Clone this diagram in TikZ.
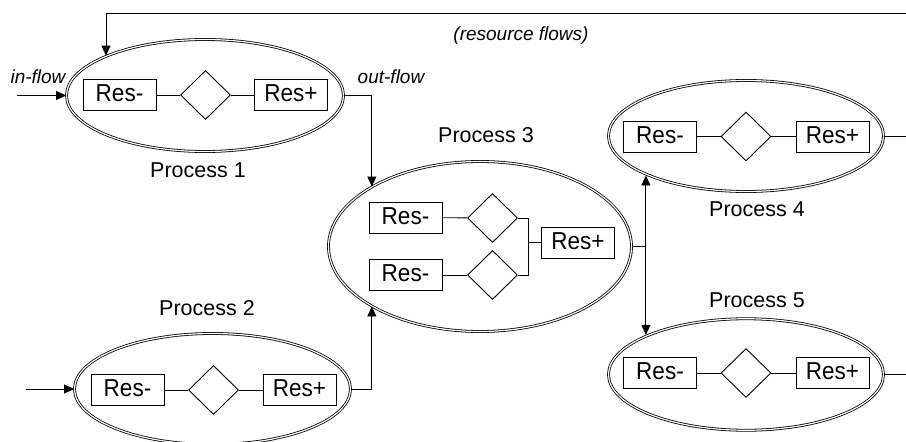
\documentclass[tikz,border=0pt]{standalone}
\usepackage{fontspec}
\setmainfont{Liberation Sans}
\newfontfamily\resfont[FakeStretch=0.92]{Liberation Sans}
\usetikzlibrary{shapes.geometric,arrows.meta}
\begin{document}
\begin{tikzpicture}[x=1pt,y=-1pt,
  proc/.style={ellipse, draw, double, double distance=1.2pt, line width=0.8pt, inner sep=0pt},
  res/.style={draw, line width=0.9pt, minimum width=73pt, minimum height=31pt, inner sep=0pt, text height=17.5pt, text depth=4pt, font=\resfont\fontsize{24.5}{26}\selectfont},
  dia/.style={diamond, draw, line width=0.9pt, minimum width=50pt, minimum height=49pt, inner sep=0pt},
  lbl/.style={font=\fontsize{21.5}{24}\selectfont},
  ital/.style={font=\fontsize{19}{22}\selectfont\itshape},
  link/.style={line width=0.9pt},
  flow/.style={line width=0.9pt, -{Triangle[length=10pt,width=9pt]}}
]
\useasboundingbox (0,0) rectangle (906,442);

% Process ellipses
\node[proc, minimum width=277pt, minimum height=112pt] (p1) at (205,95.5) {};
\node[proc, minimum width=276pt, minimum height=111pt] (p2) at (212.5,389) {};
\node[proc, minimum width=303pt, minimum height=170pt] (p3) at (480,246.5) {};
\node[proc, minimum width=275pt, minimum height=111pt] (p4) at (746,136) {};
\node[proc, minimum width=275pt, minimum height=111.5pt] (p5) at (746,374.5) {};

% Process 1 contents
\node[res] (r1m) at (119.5,95) {Res-};
\node[dia] (d1) at (205.5,95) {};
\node[res] (r1p) at (291,95) {Res+};
\draw[link] (r1m) -- (d1) -- (r1p);

% Process 2 contents
\node[res] (r2m) at (127.5,390) {Res-};
\node[dia] (d2) at (213.5,390) {};
\node[res] (r2p) at (299.5,390) {Res+};
\draw[link] (r2m) -- (d2) -- (r2p);

% Process 3 contents
\node[res] (r3a) at (405.5,217.5) {Res-};
\node[res] (r3b) at (405.5,275) {Res-};
\node[dia] (d3a) at (492.5,218) {};
\node[dia] (d3b) at (492.5,275) {};
\node[res] (r3p) at (578,242.5) {Res+};
\draw[link] (r3a) -- (d3a);
\draw[link] (r3b) -- (d3b);
\path (r3p.west) ++(-13,0) coordinate (br);
\draw[link] (d3a.east) -| (br) |- (d3b.east);
\draw[link] (br) -- (r3p.west);

% Process 4 contents
\node[res] (r4m) at (660,136.5) {Res-};
\node[dia] (d4) at (746,136.5) {};
\node[res] (r4p) at (832.5,136.5) {Res+};
\draw[link] (r4m) -- (d4) -- (r4p);

% Process 5 contents
\node[res] (r5m) at (660,373) {Res-};
\node[dia] (d5) at (746,373) {};
\node[res] (r5p) at (832.5,373) {Res+};
\draw[link] (r5m) -- (d5) -- (r5p);

% Labels
\node[lbl] (l1) at (198,170) {Process 1};
\node[lbl] (l2) at (207,308) {Process 2};
\node[lbl] (l3) at (486,135) {Process 3};
\node[lbl] (l4) at (757,209) {Process 4};
\node[lbl] (l5) at (757,300) {Process 5};
\node[ital] (lin) at (38,77) {in-flow};
\node[ital] (lout) at (391,77) {out-flow};
\node[ital] (lres) at (521,36) {(resource flows)};

% Coordinates for free ends
\coordinate (e0) at (906,13);
\coordinate (fb) at (106,13);
\path (p1.west) ++(-49,0) coordinate (in1);
\path (p2.west) ++(-48,0) coordinate (in2);
\path (p3.east) ++(14,0) coordinate (j);
\path (p4.east -| e0) coordinate (e4);
\path (p5.east -| e0) coordinate (e5);

% Connectors
\draw[flow] (in1) -- (p1.west);
\draw[flow] (in2) -- (p2.west);
\draw[flow] (e0) -- (fb) -- (fb |- p1.158);
\draw[flow] (p1.east) -| (p3.151);
\draw[flow] (p2.east) -| (p3.209);
\draw[link] (p3.east) -- (j);
\draw[flow] (j) -- (j |- p4.202);
\draw[flow] (j) -- (j |- p5.158);
\draw[link] (p4.east) -- (e4);
\draw[link] (p5.east) -- (e5);
\end{tikzpicture}
\end{document}
